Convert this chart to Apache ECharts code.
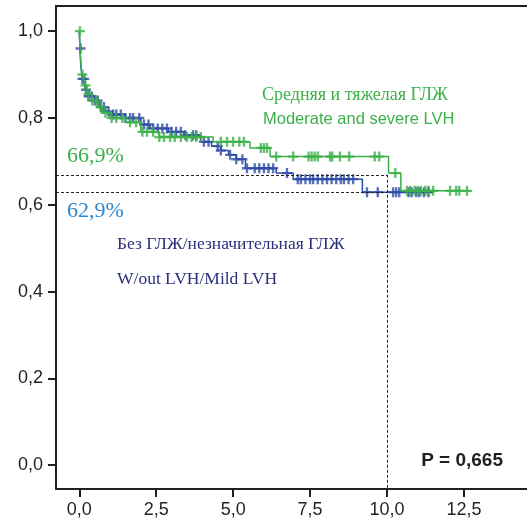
<!DOCTYPE html>
<html lang="ru">
<head>
    <meta charset="UTF-8">
    <title>Kaplan-Meier: ГЛЖ</title>
    <script src="https://cdn.jsdelivr.net/npm/echarts@6/dist/echarts.min.js"></script>
    <style>
        html, body { margin: 0; padding: 0; background: #fff; }
        #main { width: 527px; height: 523px; }
    </style>
</head>
<body>
    <div id="main"></div>
    <script type="text/javascript">
        // кривые выживаемости (время, доля) - ступени
        var greenTimes = [0, 0.03, 0.08, 0.15, 0.25, 0.4, 0.6, 0.75, 1.0, 1.5, 2.0, 2.6, 4.35, 5.55, 6.2, 10.05, 10.45, 12.7];
        var greenSurv = [1.0, 0.95, 0.90, 0.875, 0.855, 0.84, 0.825, 0.812, 0.8, 0.79, 0.768, 0.756, 0.745, 0.731, 0.711, 0.673, 0.632, 0.632];
        var greenCensored = [0.02, 0.1, 0.2, 0.3, 0.42, 0.55, 0.7, 0.85, 1.05, 1.2, 1.4, 1.65, 1.85, 2.05, 2.2, 2.4, 2.6, 2.75, 2.95, 3.1, 3.3, 3.5, 3.65, 3.8, 3.95, 4.6, 4.8, 5.0, 5.2, 5.35, 5.9, 6.0, 6.1, 6.4, 6.95, 7.45, 7.55, 7.65, 7.75, 8.15, 8.22, 8.47, 8.77, 9.6, 9.75, 10.27, 10.65, 10.75, 10.9, 11.0, 11.1, 11.25, 11.35, 11.5, 12.05, 12.25, 12.35, 12.6];

        var blueTimes = [0, 0.02, 0.05, 0.1, 0.18, 0.3, 0.5, 0.67, 0.85, 1.0, 1.5, 2.0, 2.3, 2.9, 3.4, 3.95, 4.3, 4.6, 4.85, 5.1, 5.4, 6.4, 6.95, 9.2, 11.5];
        var blueSurv = [1.0, 0.96, 0.92, 0.89, 0.865, 0.85, 0.84, 0.825, 0.815, 0.808, 0.8, 0.785, 0.776, 0.768, 0.76, 0.745, 0.735, 0.725, 0.715, 0.705, 0.684, 0.673, 0.659, 0.629, 0.629];
        var blueCensored = [0.04, 0.1, 0.16, 0.22, 0.3, 0.4, 0.5, 0.6, 0.7, 0.8, 0.95, 1.1, 1.2, 1.35, 1.5, 1.65, 1.75, 1.95, 2.1, 2.25, 2.4, 2.55, 2.7, 2.85, 3.0, 3.15, 3.3, 3.45, 3.7, 3.8, 4.05, 4.2, 4.5, 4.6, 4.9, 5.1, 5.3, 5.45, 5.7, 5.85, 6.0, 6.15, 6.3, 6.75, 7.1, 7.2, 7.35, 7.5, 7.6, 7.75, 7.9, 8.05, 8.2, 8.35, 8.5, 8.6, 8.75, 8.9, 9.35, 9.7, 10.2, 10.3, 10.4, 10.7, 10.8, 10.95, 11.05, 11.2, 11.35];

        var xTicks = [0, 2.5, 5, 7.5, 10, 12.5];
        var yTicks = [0, 0.2, 0.4, 0.6, 0.8, 1.0];

        // 10-летняя выживаемость
        var tenYear = 10;
        var greenAt10 = 0.669;
        var blueAt10 = 0.629;

        var GREEN = '#3cb04a';
        var BLUE = '#2f4ea8';
        var X_MIN = -0.757, X_MAX = 14.55;
        var Y_MIN = -0.055, Y_MAX = 1.058;

        function steps(times, vals) {
            return times.map(function (t, i) { return [t, vals[i]]; });
        }
        function survAt(times, vals, t) {
            var v = vals[0];
            for (var i = 0; i < times.length; i++) {
                if (times[i] <= t) v = vals[i];
            }
            return v;
        }
        function marks(cens, times, vals) {
            return cens.map(function (t) { return [t, survAt(times, vals, t)]; });
        }
        function comma(v, d) { return v.toFixed(d).replace('.', ','); }

        var plus = 'path://M3.8,0h2.4v3.8h3.8v2.4h-3.8v3.8h-2.4v-3.8h-3.8v-2.4h3.8z';
        var dash = { color: '#222', type: [3, 2], width: 1 };
        var axisLine = { show: true, onZero: false, lineStyle: { color: '#231f20', width: 2 } };

        var myChart = echarts.init(document.getElementById('main'));
        var option = {
            animation: false,
            grid: { left: 56, right: 0, top: 6, bottom: 34 },
            xAxis: [{
                type: 'value', min: X_MIN, max: X_MAX,
                axisLine: axisLine,
                axisTick: { show: true, length: 8, lineStyle: { width: 2, color: '#231f20' }, customValues: xTicks },
                axisLabel: { customValues: xTicks, margin: 12, color: '#231f20', fontSize: 18, fontFamily: 'Liberation Sans',
                    formatter: function (v) { return comma(v, 1); } },
                splitLine: { show: false }
            }, {
                type: 'value', position: 'top', min: X_MIN, max: X_MAX,
                axisLine: axisLine,
                axisTick: { show: false }, axisLabel: { show: false }, splitLine: { show: false }
            }],
            yAxis: {
                type: 'value', min: Y_MIN, max: Y_MAX,
                axisLine: axisLine,
                axisTick: { show: true, length: 8, lineStyle: { width: 2, color: '#231f20' }, customValues: yTicks },
                axisLabel: { customValues: yTicks, margin: 13, color: '#231f20', fontSize: 18, fontFamily: 'Liberation Sans',
                    formatter: function (v) { return comma(v, 1); } },
                splitLine: { show: false }
            },
            series: [{
                type: 'line', step: 'end', data: steps(blueTimes, blueSurv),
                showSymbol: false, lineStyle: { color: BLUE, width: 1.5 }, z: 2,
                markLine: {
                    silent: true, symbol: 'none', label: { show: false }, lineStyle: dash,
                    data: [
                        [{ coord: [X_MIN, greenAt10] }, { coord: [tenYear, greenAt10] }],
                        [{ coord: [X_MIN, blueAt10] }, { coord: [tenYear, blueAt10] }],
                        [{ coord: [tenYear, greenAt10] }, { coord: [tenYear, Y_MIN] }]
                    ]
                }
            }, {
                type: 'scatter', data: marks(blueCensored, blueTimes, blueSurv),
                symbol: plus, symbolSize: 10, itemStyle: { color: BLUE, opacity: 0.8 }, z: 3
            }, {
                type: 'line', step: 'end', data: steps(greenTimes, greenSurv),
                showSymbol: false, lineStyle: { color: GREEN, width: 1.5 }, z: 4
            }, {
                type: 'scatter', data: marks(greenCensored, greenTimes, greenSurv),
                symbol: plus, symbolSize: 10, itemStyle: { color: GREEN, opacity: 0.8 }, z: 5
            }],
            graphic: [
                { type: 'text', left: 262, top: 86, style: { text: 'Средняя и тяжелая ГЛЖ', fill: GREEN, font: '18px "Liberation Serif"' } },
                { type: 'text', left: 263, top: 111, style: { text: 'Moderate and severe LVH', fill: GREEN, font: '16.5px "Liberation Sans"' } },
                { type: 'text', left: 67, top: 145, style: { text: '66,9%', fill: GREEN, font: '22px "Liberation Serif"' } },
                { type: 'text', left: 67, top: 200, style: { text: '62,9%', fill: '#2a88d2', font: '22px "Liberation Serif"' } },
                { type: 'text', left: 117, top: 235, style: { text: 'Без ГЛЖ/незначительная ГЛЖ', fill: '#2b2f7c', font: '17.5px "Liberation Serif"' } },
                { type: 'text', left: 117, top: 270, style: { text: 'W/out LVH/Mild LVH', fill: '#2b2f7c', font: '17.5px "Liberation Serif"' } },
                { type: 'text', right: 24, top: 451, style: { text: 'P = 0,665', fill: '#231f20', font: 'bold 19px "Liberation Sans"' } }
            ]
        };

        myChart.setOption(option);
    </script>
</body>
</html>
